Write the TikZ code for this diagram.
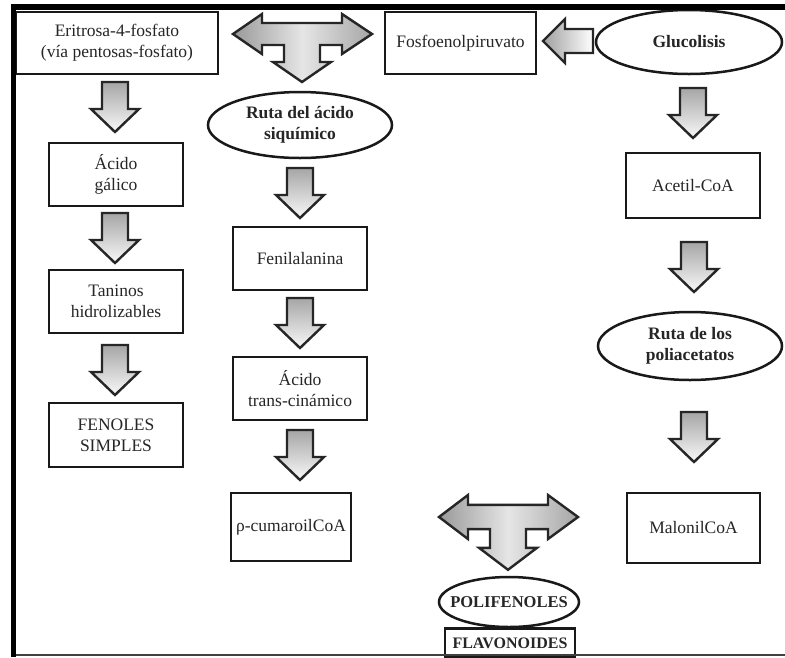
\documentclass[tikz,border=0pt]{standalone}
\usepackage{fontspec}
\setmainfont{Liberation Serif}
\usetikzlibrary{shapes.geometric}
\begin{document}
\begin{tikzpicture}[x=1pt,y=-1pt,line join=miter,
  txt/.style={font=\fontsize{17.5}{21}\selectfont, text=black!85, align=center, inner sep=0pt},
  boxn/.style={txt, draw=black!90, line width=2.5pt, rectangle, minimum width=134pt, minimum height=63pt},
  ovaltxt/.style={txt, font=\fontsize{17.5}{21}\selectfont\bfseries},
  ovalline/.style={draw=black!90, line width=2.5pt},
  arrowline/.style={draw=black!85, line width=2.4pt},
  varrow/.pic={\path[arrowline, top color=gray!70, bottom color=gray!5]
     (-13,0) -- (13,0) -- (13,27) -- (24,27) -- (0,50) -- (-24,27) -- (-13,27) -- cycle;},
  larrow/.pic={\path[arrowline, left color=gray!75, right color=white]
     (0,0) -- (22,-22) -- (22,-12) -- (50,-12) -- (50,12) -- (22,12) -- (22,22) -- cycle;},
  tarrow/.pic={\path[arrowline, left color=gray!80, right color=gray!70, middle color=gray!20]
     (-69,0) -- (-40,-20) -- (-40,-11) -- (40,-11) -- (40,-20) -- (70,0) -- (40,20) -- (40,11)
     -- (18,11) -- (18,28) -- (29,28) -- (0,48) -- (-29,28) -- (-18,28) -- (-18,11)
     -- (-40,11) -- (-40,20) -- cycle;}
]
\useasboundingbox (0,0) rectangle (785,657);
\fill[white] (0,0) rectangle (785,657);

% left column
\node[boxn, minimum width=202pt, minimum height=62pt] (eri) at (117,43) {Eritrosa-4-fosfato\\(vía pentosas-fosfato)};
\node[boxn] (gal) at (116,174.5) {Ácido\\gálico};
\node[boxn] (tan) at (116,301.5) {Taninos\\hidrolizables};
\node[boxn, minimum height=64pt] (fen) at (116,435) {FENOLES\\SIMPLES};

% middle column
\node[ovaltxt] (siq) at (300,125) {Ruta del ácido\\siquímico};
\draw[ovalline] (siq.center) ellipse [x radius=92pt, y radius=33pt];
\node[boxn] (feni) at (300,258.5) {Fenilalanina};
\node[boxn] (trans) at (300,388.5) {Ácido\\trans-cinámico};
\node[boxn, minimum width=120pt, minimum height=68pt] (cum) at (291,527) {ρ-cumaroilCoA};

% top middle
\node[boxn, minimum width=151pt, minimum height=62pt] (fos) at (460.5,43) {Fosfoenolpiruvato};

% right column
\node[ovaltxt] (glu) at (689,42) {Glucolisis};
\draw[ovalline] (glu.center) ellipse [x radius=93pt, y radius=32pt];
\node[boxn, minimum height=65pt] (ace) at (693,185.5) {Acetil-CoA};
\node[ovaltxt] (pol) at (690,346) {Ruta de los\\poliacetatos};
\draw[ovalline] (pol.center) ellipse [x radius=92pt, y radius=34pt];
\node[boxn, minimum width=133pt, minimum height=70pt] (mal) at (693.5,528) {MalonilCoA};

% bottom centre
\node[ovaltxt, font=\fontsize{16.5}{20}\selectfont\bfseries] (poli) at (509,602) {POLIFENOLES};
\draw[ovalline] (poli.center) ellipse [x radius=70pt, y radius=25pt];
\node[boxn, font=\fontsize{16}{19}\selectfont\bfseries, minimum width=130pt, minimum height=29pt] (flav) at (510,643) {FLAVONOIDES};

% block arrows
\pic at (115,82) {varrow};
\pic at (115,213) {varrow};
\pic at (115,345) {varrow};
\pic at (300,168) {varrow};
\pic at (300,298) {varrow};
\pic at (300,430) {varrow};
\pic at (693,88) {varrow};
\pic at (694,242) {varrow};
\pic at (694,412) {varrow};
\pic at (543,41) {larrow};
\pic at (302,34) {tarrow};
\pic[yscale=1.1] at (508,517) {tarrow};

% frame
\fill[black] (11,4) rectangle (16,657);
\fill[black] (11,4) rectangle (785,10);
\draw[black!75, line width=2pt] (16,655) -- (785,655);
\end{tikzpicture}
\end{document}
